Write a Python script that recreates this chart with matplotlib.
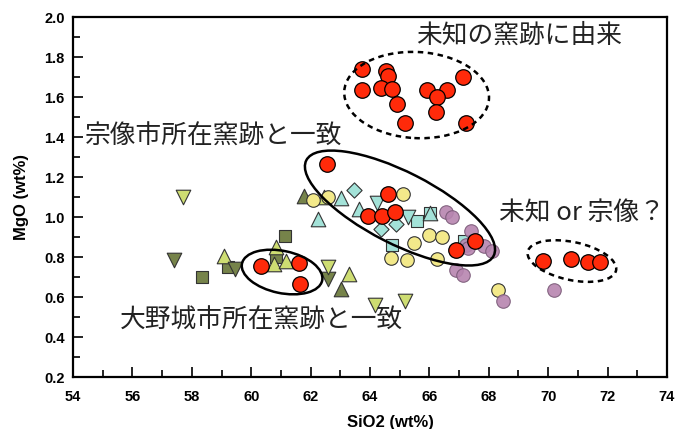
import numpy as np
import matplotlib
matplotlib.use('Agg')
import matplotlib.pyplot as plt
from matplotlib.patches import Ellipse
from matplotlib.transforms import Affine2D

### SiO2 vs MgO of kiln samples ###

red_x = [63.72, 64.54, 64.60, 63.73, 64.37, 64.75, 64.92, 65.18, 65.91, 66.58, 66.27, 66.21, 67.12, 67.23,
         62.55, 64.60, 63.94, 64.39, 64.84, 67.55, 66.90,
         60.33, 61.61, 61.64,
         69.84, 70.77, 71.33, 71.74]
red_y = [1.739, 1.730, 1.705, 1.635, 1.647, 1.640, 1.565, 1.470, 1.635, 1.635, 1.600, 1.525, 1.700, 1.470,
         1.265, 1.117, 1.007, 1.005, 1.025, 0.880, 0.835,
         0.753, 0.768, 0.665,
         0.780, 0.790, 0.773, 0.773]

yellow_x = [62.07, 62.60, 65.12, 66.00, 66.42, 65.47, 64.72, 65.25, 66.26, 68.31]
yellow_y = [1.085, 1.100, 1.115, 0.908, 0.900, 0.872, 0.793, 0.784, 0.790, 0.633]

purple_x = [66.55, 66.77, 67.40, 67.23, 67.30, 67.85, 68.10, 66.90, 67.14, 68.49, 70.20]
purple_y = [1.025, 1.000, 0.932, 0.860, 0.845, 0.855, 0.832, 0.735, 0.712, 0.582, 0.635]

cyan_sq_x = [64.75, 65.57, 66.02, 67.17]
cyan_sq_y = [0.860, 0.980, 1.020, 0.880]
cyan_dm_x = [63.45, 64.37, 64.87]
cyan_dm_y = [1.135, 0.940, 0.965]
cyan_up_x = [63.02, 62.25, 63.63, 66.02]
cyan_up_y = [1.093, 0.990, 1.040, 1.020]
cyan_dn_x = [64.23, 65.27]
cyan_dn_y = [1.070, 1.000]

olive_sq_x = [58.35, 59.23, 61.14, 60.85]
olive_sq_y = [0.700, 0.750, 0.905, 0.800]
olive_up_x = [61.77, 63.01]
olive_up_y = [1.105, 0.640]
olive_dn_x = [57.40, 59.45, 62.58]
olive_dn_y = [0.785, 0.740, 0.690]

lime_up_x = [59.08, 60.83, 60.77, 61.17, 63.28, 62.45]
lime_up_y = [0.805, 0.850, 0.765, 0.780, 0.713, 1.100]
lime_dn_x = [57.69, 62.60, 64.18, 65.19]
lime_dn_y = [1.100, 0.748, 0.562, 0.582]

plt.rcParams['font.family'] = ['Liberation Sans', 'DejaVu Sans']
jp = ['Noto Sans CJK JP', 'DejaVu Sans']

fig = plt.figure(figsize=(6.78, 4.29), dpi=100)
ax = fig.add_axes([0.1077, 0.1212, 0.876, 0.839])

ek = dict(edgecolor='#333333', linewidths=0.8)
ax.scatter(olive_sq_x, olive_sq_y, marker='s', s=85, color='#76834a', **ek)
ax.scatter(lime_up_x, lime_up_y, marker='^', s=110, color='#cedd72', **ek)
ax.scatter(olive_up_x, olive_up_y, marker='^', s=110, color='#76834a', **ek)
ax.scatter(olive_dn_x, olive_dn_y, marker='v', s=110, color='#76834a', **ek)
ax.scatter(lime_dn_x, lime_dn_y, marker='v', s=110, color='#cedd72', **ek)
ax.scatter(cyan_sq_x, cyan_sq_y, marker='s', s=85, color='#a3e2d8', **ek)
ax.scatter(cyan_dm_x, cyan_dm_y, marker='D', s=60, color='#a3e2d8', **ek)
ax.scatter(cyan_up_x, cyan_up_y, marker='^', s=110, color='#a3e2d8', **ek)
ax.scatter(cyan_dn_x, cyan_dn_y, marker='v', s=110, color='#a3e2d8', **ek)
ax.scatter(yellow_x, yellow_y, marker='o', s=95, color='#f3e98a', **ek)
ax.scatter(purple_x, purple_y, marker='o', s=95, color='#b785b0', edgecolor='#7a5a78', linewidths=0.8, alpha=0.9)
ax.scatter(red_x, red_y, marker='o', s=125, color='#ff2a0a', edgecolor='black', linewidths=0.9, zorder=5)

ax.set_xlim(54, 74)
ax.set_ylim(0.2, 2.0)

# ellipses drawn in a space with equal pixel scale on both axes
k = (fig.get_figheight() * 0.839 / 1.8) / (fig.get_figwidth() * 0.876 / 20)
tr = Affine2D().scale(1, 1 / k) + ax.transData
rings = [(65.57, 1.61, 2.44, 1.45, -3, 'dashed'),
         (65.01, 1.045, 3.54, 1.21, -27, 'solid'),
         (61.04, 0.725, 1.38, 0.71, -12, 'solid'),
         (70.80, 0.78, 1.52, 0.64, -12, 'dashed')]
for cx, cy, a, b, ang, ls in rings:
    dash = (0, (2.2, 1.8)) if ls == 'dashed' else 'solid'
    ax.add_patch(Ellipse((cx, cy * k), 2 * a, 2 * b, angle=ang, transform=tr,
                         fill=False, edgecolor='black', linewidth=1.8, linestyle=dash, zorder=6))

ax.text(65.55, 1.905, '未知の窯跡に由来', family=jp, fontsize=18.5, ha='left', va='center', color='#222222')
ax.text(54.40, 1.40, '宗像市所在窯跡と一致', family=jp, fontsize=18.5, ha='left', va='center', color='#222222')
ax.text(68.34, 1.02, '未知 or 宗像？', family=jp, fontsize=18.5, ha='left', va='center', color='#222222')
ax.text(55.58, 0.48, '大野城市所在窯跡と一致', family=jp, fontsize=18.5, ha='left', va='center', color='#222222')

ax.set_xticks(np.arange(54, 75, 2))
ax.set_xticks(np.arange(55, 74, 2), minor=True)
ax.set_yticks(np.arange(0.2, 2.01, 0.2))
ax.set_yticks(np.arange(0.3, 2.0, 0.2), minor=True)
ax.yaxis.set_major_formatter(matplotlib.ticker.FormatStrFormatter('%.1f'))
ax.tick_params(which='both', direction='in', width=1.2, labelsize=10.5)
ax.tick_params(which='major', length=7)
ax.tick_params(which='minor', length=5)
ax.tick_params(axis='x', pad=9)
ax.tick_params(axis='y', pad=6)
for lab in ax.get_xticklabels() + ax.get_yticklabels():
    lab.set_fontweight('bold')
for sp in ax.spines.values():
    sp.set_linewidth(1.6)

ax.set_xlabel('SiO2 (wt%)', fontsize=12, fontweight='bold')
ax.set_ylabel('MgO (wt%)', fontsize=12, fontweight='bold')
ax.xaxis.set_label_coords(0.535, -0.105)
ax.yaxis.set_label_coords(-0.074, 0.5)

fig.savefig('out.png', dpi=100)
